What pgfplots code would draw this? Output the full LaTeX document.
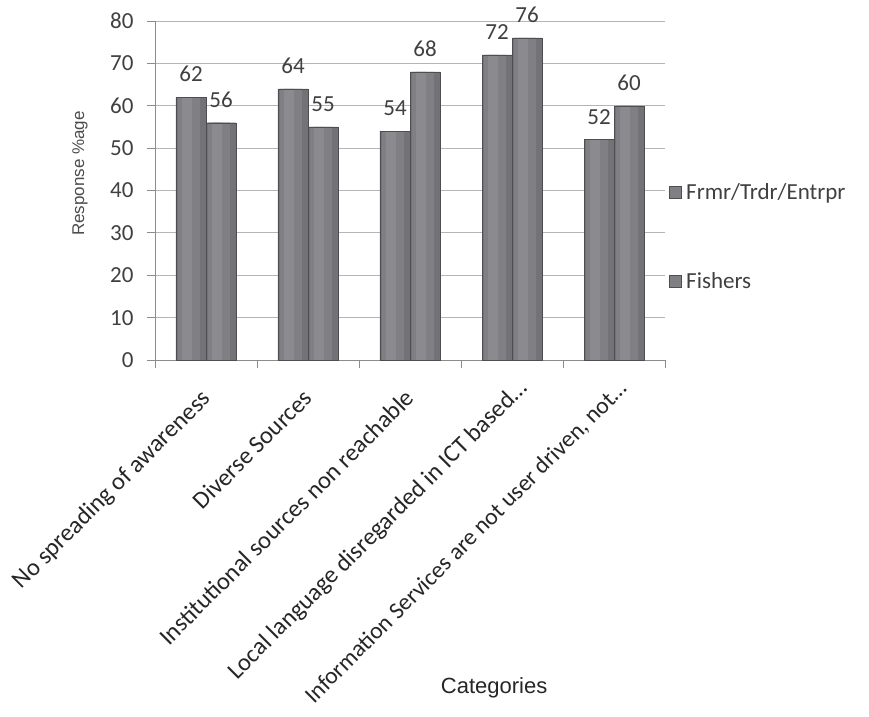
\documentclass[border=0pt]{standalone}
\usepackage{fontspec}
\setmainfont{Carlito}
\newfontfamily\arialfont{Liberation Sans}
\usepackage{pgfplots}
\usepackage{pgfplotstable}
\pgfplotsset{compat=1.18}

\definecolor{txtgray}{HTML}{404040}
\definecolor{gridgray}{HTML}{B5B5B5}
\definecolor{axgray}{HTML}{8C8C8C}
\definecolor{barbody}{HTML}{737377}
\definecolor{barmid}{HTML}{7F7F84}
\definecolor{barhi}{HTML}{8A8A8F}
\definecolor{baredge}{HTML}{4E4E52}

\newcommand{\bigfont}{\fontsize{23}{27}\selectfont}

% Frmr/Trdr/Entrpr and Fishers responses
\pgfplotstableread{
x a b
0 62 56
1 64 55
2 54 68
3 72 76
4 52 60
}\resp

\begin{document}
\begin{tikzpicture}
\begin{axis}[
  name=ax,
  at={(0,0)}, anchor=south west,
  scale only axis, width=510pt, height=339pt,
  xmin=-0.5, xmax=4.5, ymin=0, ymax=80,
  ybar, bar width=30pt,
  ytick={0,10,...,80},
  xtick={0,...,4},
  xticklabels={No spreading of awareness, Diverse Sources, Institutional sources non reachable, Local language disregarded in ICT based…\kern-15pt, {\fontsize{23.6}{28}\selectfont Information Services are not user driven, not…\kern-13pt}},
  minor xtick={-0.5,0.5,...,4.5},
  axis x line=bottom, axis y line=left,
  axis line style={axgray, line width=0.8pt, -},
  ymajorgrids, grid style={gridgray, line width=0.8pt},
  tick align=outside, major tick length=8pt, minor tick length=8pt,
  tick style={axgray, line width=0.8pt},
  major x tick style={draw=none},
  /pgf/number format/assume math mode=true,
  ticklabel style={font=\bigfont, text=txtgray},
  xticklabel style={font=\fontsize{24.5}{28}\selectfont, rotate=45, anchor=north east, text=black!85, xshift=-15pt, yshift=-6pt},
  yticklabel style={xshift=-10pt},
  xlabel={Categories},
  xlabel style={font=\arialfont\fontsize{22}{26}\selectfont, text=black!85, at={(axis description cs:0.665,-0.968)}, anchor=center},
  ylabel={Response \%age},
  ylabel style={font=\arialfont\fontsize{17}{20}\selectfont, text=black!70, at={(axis description cs:-0.147,0.55)}, anchor=center},
  every node near coord/.append style={font=\bigfont, text=txtgray, anchor=center, yshift=23pt},
  legend style={draw=none, fill=none, at={(axis description cs:1.0,0.364)}, anchor=west, row sep=68pt, font=\bigfont, text=txtgray},
  legend cell align=left,
  legend image code/.code={\path[draw=baredge, fill=barmid] (1pt,-6pt) rectangle (13pt,6pt); \path (0pt,0pt) -- (16pt,0pt);},
]
% bar bodies
\addplot[draw=none, fill=barbody, bar shift=-15pt] table[x=x, y=a] {\resp};
\addlegendentry{Frmr/Trdr/Entrpr}
\addplot[draw=none, fill=barbody, bar shift=15pt] table[x=x, y=b] {\resp};
\addlegendentry{Fishers}
% lighter inner bands
\addplot[forget plot, draw=none, fill=barmid, bar width=22pt, bar shift=-17pt] table[x=x, y=a] {\resp};
\addplot[forget plot, draw=none, fill=barmid, bar width=22pt, bar shift=13pt] table[x=x, y=b] {\resp};
\addplot[forget plot, draw=none, fill=barhi, bar width=10pt, bar shift=-19pt] table[x=x, y=a] {\resp};
\addplot[forget plot, draw=none, fill=barhi, bar width=10pt, bar shift=11pt] table[x=x, y=b] {\resp};
% outlines and value labels
\addplot[forget plot, draw=baredge, fill=none, bar shift=-15pt, nodes near coords] table[x=x, y=a] {\resp};
\addplot[forget plot, draw=baredge, fill=none, bar shift=15pt, nodes near coords] table[x=x, y=b] {\resp};
\end{axis}
\pgfresetboundingbox
\path[use as bounding box] ([shift={(-155pt,-356pt)}]ax.south west) rectangle ([shift={(714pt,360pt)}]ax.south west);
\end{tikzpicture}
\end{document}
